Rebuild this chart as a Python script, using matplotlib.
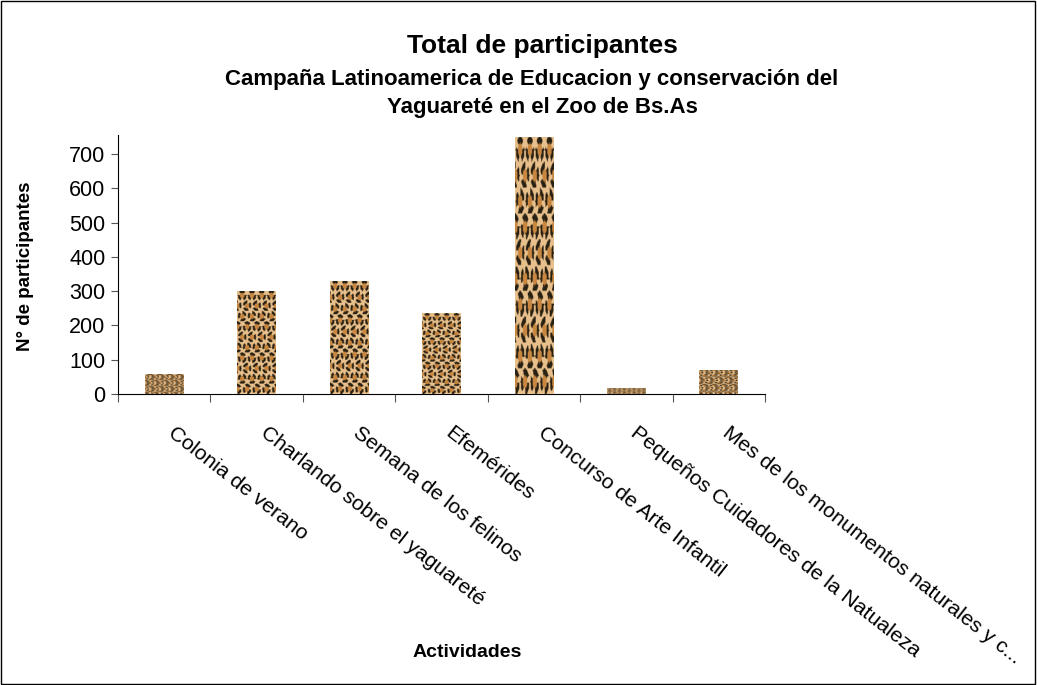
import numpy as np
import matplotlib.pyplot as plt
import matplotlib.transforms as mtransforms
from matplotlib.patches import Rectangle

plt.rcParams['font.family'] = ['Liberation Sans', 'DejaVu Sans']

# Data
actividades = ['Colonia de verano', 'Charlando sobre el yaguareté', 'Semana de los felinos',
               'Efemérides', 'Concurso de Arte Infantil', 'Pequeños Cuidadores de la Natualeza',
               'Mes de los monumentos naturales y c...']
participantes = [58, 301, 330, 236, 750, 17, 70]
yticks = [0, 100, 200, 300, 400, 500, 600, 700]


def leopard_texture(h=160, w=64, cell=16):
    # tan background with dark rosettes, stretched onto each bar like the original
    yy, xx = np.mgrid[0:h, 0:w].astype(float)
    row = np.floor(yy / cell)
    xs = xx + (row % 2) * cell / 2
    cx = (xs % cell) - cell / 2
    cy = (yy % cell) - cell / 2
    r = np.hypot(cx, cy / 1.15)
    ang = np.arctan2(cy, cx)
    img = np.empty((h, w, 3))
    img[:] = np.array([232, 192, 140]) / 255
    inner = r < cell * 0.22
    img[inner] = np.array([200, 135, 65]) / 255
    ring = (r > cell * 0.22) & (r < cell * 0.44) & (np.sin(3 * ang + 2 * row) > -0.55)
    img[ring] = np.array([40, 32, 18]) / 255
    return img


tex = leopard_texture()

fig = plt.figure(figsize=(10.37, 6.85), dpi=100)
ax = fig.add_axes([0.1138, 0.4248, 0.624, 0.378])

x = np.arange(len(actividades))
width = 0.42
bars = ax.bar(x, participantes, width, color='#d9a866', zorder=2)
for b, v in zip(bars, participantes):
    x0 = b.get_x()
    im = ax.imshow(tex, extent=(x0, x0 + width, 0, v), aspect='auto',
                   interpolation='bilinear', zorder=3)
    im.set_clip_path(b)

ax.set_xlim(-0.5, len(actividades) - 0.5)
ax.set_ylim(0, 755)
ax.set_yticks(yticks)
ax.tick_params(axis='y', labelsize=15.5, length=5, color='#555555', pad=4)

# ticks between categories, labels centred under bars
ax.set_xticks(np.arange(len(actividades) + 1) - 0.5)
ax.set_xticklabels([])
ax.tick_params(axis='x', length=6, color='#555555')
ax.set_xticks(x, minor=True)
labels = ax.set_xticklabels(actividades, minor=True, rotation=-38, ha='left', va='top',
                            rotation_mode='anchor', fontsize=15.2)
ax.tick_params(axis='x', which='minor', length=0, pad=21)
shift = mtransforms.ScaledTranslation(12 / 100, 0, fig.dpi_scale_trans)
for lab in labels:
    lab.set_transform(lab.get_transform() + shift)

ax.spines['top'].set_visible(False)
ax.spines['right'].set_visible(False)

fig.text(0.523, 0.9226, 'Total de participantes', ha='center', va='baseline',
         fontsize=19, fontweight='bold')
fig.text(0.513, 0.8759, 'Campaña Latinoamerica de Educacion y conservación del',
         ha='center', va='baseline', fontsize=16, fontweight='bold')
fig.text(0.523, 0.835, 'Yaguareté en el Zoo de Bs.As',
         ha='center', va='baseline', fontsize=16, fontweight='bold')

fig.text(0.025, 0.612, 'N° de participantes', rotation=90, ha='center', va='center',
         fontsize=13.5, fontweight='bold')
fig.text(0.451, 0.048, 'Actividades', ha='center', va='center',
         fontsize=14, fontweight='bold')

# chart border
fig.patches.append(Rectangle((0.001, 0.002), 0.997, 0.996, transform=fig.transFigure,
                             fill=False, edgecolor='black', linewidth=1))

plt.savefig('out.png', dpi=100)
